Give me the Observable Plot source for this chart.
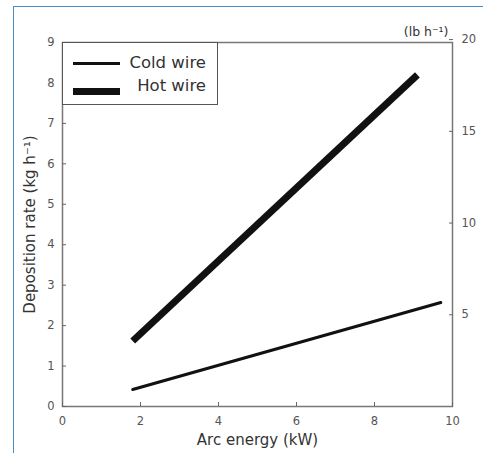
<!DOCTYPE html>
<html><head><meta charset="utf-8">
<script src="https://cdn.jsdelivr.net/npm/d3@7"></script>
<script src="https://cdn.jsdelivr.net/npm/@observablehq/plot@0.6"></script>
<style>
body{margin:0;background:#fff;font-family:"DejaVu Sans",sans-serif;}
#wrap{position:relative;width:483px;height:453px;overflow:hidden;background:#fff;}
#border{position:absolute;left:13px;top:6px;width:480px;height:460px;border-left:1.5px solid #4a8cc4;border-top:1.5px solid #4a8cc4;}
#chart{position:absolute;left:0;top:0;}
#legend{position:absolute;left:62px;top:42px;width:156px;height:63px;border:1.5px solid #555;background:#fff;box-sizing:border-box;}
#legend svg{position:absolute;left:0;top:0;}
#legend .t{position:absolute;font-size:16.5px;color:#333;line-height:18px;white-space:nowrap;}
</style></head>
<body>
<div id="wrap"><div id="border"></div><div id="chart"></div>
<div id="legend"></div></div>
<script>
const seriesNames = ["Cold wire", "Hot wire"];
const coldX = [1.8, 9.7];
const coldY = [0.42, 2.57];
const hotX = [1.8, 9.1];
const hotY = [1.62, 8.2];
const xTicks = [0, 2, 4, 6, 8, 10];
const yTicks = [0, 1, 2, 3, 4, 5, 6, 7, 8, 9];
const lbTicks = [5, 10, 15, 20];
const lbPerKg = 2.20462;

const rows = [];
coldX.forEach((x, i) => rows.push({series: seriesNames[0], x, y: coldY[i]}));
hotX.forEach((x, i) => rows.push({series: seriesNames[1], x, y: hotY[i]}));
const lbKg = lbTicks.map(v => v / lbPerKg);

const chart = Plot.plot({
  width: 483, height: 453,
  marginLeft: 62, marginRight: 31, marginTop: 42, marginBottom: 47,
  style: {fontFamily: "DejaVu Sans, sans-serif", fontSize: "11.5px", color: "#333", background: "transparent"},
  x: {domain: [0, 10]},
  y: {domain: [0, 9]},
  marks: [
    Plot.frame({stroke: "#777", strokeWidth: 1.5}),
    Plot.axisX({ticks: xTicks, tickSize: -4, tickPadding: 14, stroke: "#666", fill: "#555", label: null}),
    Plot.axisX({ticks: [], tickSize: 0, label: "Arc energy (kW)", labelAnchor: "center", labelArrow: "none",
      labelOffset: 38, fill: "#333", fontSize: 15}),
    Plot.axisY({ticks: yTicks, tickSize: -4, tickPadding: 12, stroke: "#666", fill: "#555", label: null}),
    Plot.axisY({ticks: [], tickSize: 0, label: "Deposition rate (kg h⁻¹)", labelAnchor: "center", labelArrow: "none",
      labelOffset: 38, fill: "#333", fontSize: 15}),
    Plot.axisY(lbKg, {anchor: "right", tickSize: -4, tickPadding: 13, stroke: "#666",
      tickFormat: (d, i) => lbTicks[i], label: null, fill: "#555"}),
    Plot.line(rows.filter(d => d.series === seriesNames[0]), {x: "x", y: "y", stroke: "#111", strokeWidth: 3}),
    Plot.line(rows.filter(d => d.series === seriesNames[1]), {x: "x", y: "y", stroke: "#111", strokeWidth: 7, strokeLinecap: "butt"}),
    Plot.text(["(lb h⁻¹)"], {frameAnchor: "top-right", dy: -15, dx: -4, textAnchor: "end", fontSize: 12.5, fill: "#333"})
  ]
});
document.getElementById("chart").append(chart);

// legend
const leg = document.getElementById("legend");
const widths = [3, 7];
const rowsY = [20.5, 48.5];
const ns = "http://www.w3.org/2000/svg";
const svg = document.createElementNS(ns, "svg");
svg.setAttribute("width", 156); svg.setAttribute("height", 63);
seriesNames.forEach((name, i) => {
  const l = document.createElementNS(ns, "line");
  l.setAttribute("x1", 10); l.setAttribute("x2", 57);
  l.setAttribute("y1", rowsY[i]); l.setAttribute("y2", rowsY[i]);
  l.setAttribute("stroke", "#111"); l.setAttribute("stroke-width", widths[i]);
  svg.append(l);
  const t = document.createElement("div");
  t.className = "t"; t.textContent = name;
  t.style.right = "11px";
  t.style.top = (i === 0 ? 11 : 34) + "px";
  leg.append(t);
});
leg.prepend(svg);
</script>
</body></html>
